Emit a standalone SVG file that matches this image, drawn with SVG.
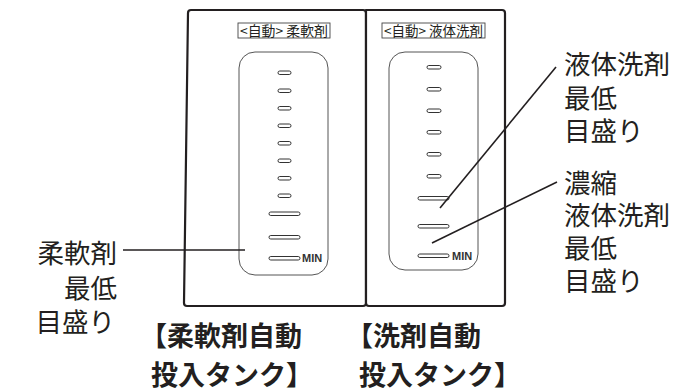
<svg xmlns="http://www.w3.org/2000/svg" width="691" height="392" viewBox="0 0 691 392">
<style>
.panel{fill:#fff;stroke:#231f20;stroke-width:2.2;stroke-linejoin:round}
.inner{fill:#fff;stroke:#555;stroke-width:1}
.tag{fill:#fff;stroke:#444;stroke-width:0.9}
.tagt{font-family:"Noto Sans CJK JP",sans-serif;font-size:13.5px;fill:#231f20}
.tick{fill:#fff;stroke:#333;stroke-width:1}
.min{font-family:"Liberation Sans",Arial,sans-serif;font-weight:bold;font-size:11px;fill:#333}
.lbl{font-family:"Noto Sans CJK JP",sans-serif;font-size:26.5px;fill:#231f20}
.bold{font-family:"Noto Sans CJK JP",sans-serif;font-size:27px;font-weight:bold;fill:#231f20}
.lead{stroke:#231f20;stroke-width:1.6;fill:none}
</style>
<g id="tank-softener">
<path class="panel" d="M191,10 L363,10 Q366,10 366,13 L366,303 Q366,306 363,306 L187,306 Q184,306 184,303 L188,13 Q188,10 191,10 Z"/>
<rect class="tag" x="238" y="23" width="92" height="15"/>
<text class="tagt" x="284" y="35.5" text-anchor="middle" textLength="88" lengthAdjust="spacingAndGlyphs">&lt;自動&gt; 柔軟剤</text>
<rect class="inner" x="239" y="52" width="89" height="223" rx="16"/>
<rect class="tick" x="278" y="71" width="13" height="3.5" rx="1.75"/>
<rect class="tick" x="278" y="89" width="13" height="3.5" rx="1.75"/>
<rect class="tick" x="278" y="106.5" width="13" height="3.5" rx="1.75"/>
<rect class="tick" x="278" y="124" width="13" height="3.5" rx="1.75"/>
<rect class="tick" x="278" y="141.5" width="13" height="3.5" rx="1.75"/>
<rect class="tick" x="278" y="159" width="13" height="3.5" rx="1.75"/>
<rect class="tick" x="278" y="176.5" width="13" height="3.5" rx="1.75"/>
<rect class="tick" x="278" y="194" width="13" height="3.5" rx="1.75"/>
<rect class="tick" x="269" y="212" width="31" height="3.5" rx="1.75"/>
<rect class="tick" x="269" y="235.5" width="31" height="3.5" rx="1.75"/>
<rect class="tick" x="269" y="256.5" width="31" height="3.5" rx="1.75"/>
<text class="min" x="302" y="262">MIN</text>
</g>
<g id="tank-detergent">
<path class="panel" d="M366,10 L502,10 Q505,10 505,13 L505,303 Q505,306 502,306 L369,306 Q366,306 366,303 Z"/>
<rect class="tag" x="382" y="23" width="103" height="15"/>
<text class="tagt" x="433.5" y="35.5" text-anchor="middle" textLength="99" lengthAdjust="spacingAndGlyphs">&lt;自動&gt; 液体洗剤</text>
<rect class="inner" x="389" y="52" width="89" height="218" rx="16"/>
<rect class="tick" x="427" y="65.5" width="14" height="3.5" rx="1.75"/>
<rect class="tick" x="427" y="87.5" width="14" height="3.5" rx="1.75"/>
<rect class="tick" x="427" y="109" width="14" height="3.5" rx="1.75"/>
<rect class="tick" x="427" y="130.5" width="14" height="3.5" rx="1.75"/>
<rect class="tick" x="427" y="152.5" width="14" height="3.5" rx="1.75"/>
<rect class="tick" x="427" y="174.5" width="14" height="3.5" rx="1.75"/>
<rect class="tick" x="418" y="196.5" width="31" height="3.5" rx="1.75"/>
<rect class="tick" x="418" y="224.5" width="31" height="3.5" rx="1.75"/>
<rect class="tick" x="418" y="254" width="31" height="3.5" rx="1.75"/>
<text class="min" x="452" y="259.5">MIN</text>
</g>
<g id="connectors">
<line class="lead" x1="123" y1="250" x2="245" y2="250"/>
<line class="lead" x1="440" y1="208" x2="556" y2="67"/>
<line class="lead" x1="432" y1="243" x2="557" y2="182"/>
</g>
<g id="label-softener-min">
<text class="lbl" x="117" y="263" text-anchor="end">柔軟剤</text>
<text class="lbl" x="117" y="298" text-anchor="end">最低</text>
<text class="lbl" x="115" y="332" text-anchor="end">目盛り</text>
</g>
<g id="label-liquid-min">
<text class="lbl" x="564" y="74">液体洗剤</text>
<text class="lbl" x="564" y="108">最低</text>
<text class="lbl" x="564" y="141">目盛り</text>
</g>
<g id="label-concentrated-min">
<text class="lbl" x="564" y="193">濃縮</text>
<text class="lbl" x="564" y="225">液体洗剤</text>
<text class="lbl" x="564" y="258">最低</text>
<text class="lbl" x="564" y="291">目盛り</text>
</g>
<g id="title-softener">
<text class="bold" x="140" y="346">【柔軟剤自動</text>
<text class="bold" x="151" y="385">投入タンク】</text>
</g>
<g id="title-detergent">
<text class="bold" x="346" y="346">【洗剤自動</text>
<text class="bold" x="359" y="385">投入タンク】</text>
</g>
</svg>
